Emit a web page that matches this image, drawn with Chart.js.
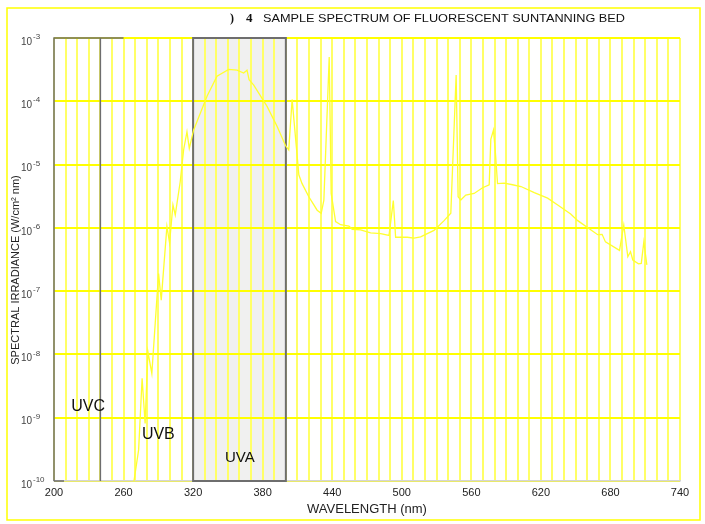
<!DOCTYPE html>
<html>
<head>
<meta charset="utf-8">
<script src="https://cdn.jsdelivr.net/npm/chart.js@4.4.1/dist/chart.umd.min.js"></script>
<style>
  html, body { margin: 0; padding: 0; background: #fff; }
</style>
</head>
<body>
<canvas id="chart" width="705" height="524"></canvas>
<script>
// Spectrum (nm, W/cm² nm)
const titleText = "SAMPLE SPECTRUM OF FLUORESCENT SUNTANNING BED";
const wavelengths = [
  269, 273, 276, 278.6, 281, 284.4, 290.2, 292.5, 297.4, 299.7,
  302.6, 304.6, 308.9, 311.8, 314.7, 316.7, 320.4, 332, 340.6, 350.7,
  357.9, 363.6, 366.5, 368.3, 372.3, 383.8, 392.5, 399.7, 402.5, 405.4,
  411.2, 414, 419.8, 427, 430.5, 432.8, 437.4, 439.1, 442.9, 447.2,
  454.4, 457.3, 464.5, 473.1, 481.8, 489, 492.7, 494.7, 504.8, 510.5,
  516.3, 522, 527.8, 536.5, 542.3, 546.9, 548.6, 550.9, 555.2, 562.4,
  569.7, 575.4, 576.8, 579.1, 580.6, 582.6, 588.3, 595.6, 602.8, 614.3,
  625.8, 634.5, 645.7, 651.8, 669, 672.8, 675.7, 687.8, 691.5, 695,
  697.3, 699.3, 704.2, 706.6, 708.8, 711.4
];
const irradiance = [
  1.0e-10, 3.1e-10, 4.2e-9, 8.1e-10, 1.1e-8, 5.0e-9, 1.9e-7, 7.2e-8, 1.05e-6, 5.8e-7,
  2.3e-6, 1.6e-6, 5.4e-6, 1.7e-5, 3.3e-5, 1.8e-5, 3.5e-5, 1.2e-4, 2.5e-4, 3.2e-4,
  3.1e-4, 2.8e-4, 3.1e-4, 2.2e-4, 1.8e-4, 8.3e-5, 4.0e-5, 2.0e-5, 1.7e-5, 1.07e-4,
  6.9e-6, 5.0e-6, 3.1e-6, 1.9e-6, 1.7e-6, 2.75e-6, 5.0e-4, 3.5e-6, 1.26e-6, 1.12e-6,
  1.07e-6, 9.5e-7, 9.3e-7, 8.3e-7, 8.1e-7, 7.6e-7, 2.7e-6, 7.1e-7, 7.1e-7, 6.9e-7,
  7.2e-7, 8.1e-7, 9.1e-7, 1.3e-6, 1.7e-6, 2.6e-4, 3.1e-6, 2.75e-6, 3.3e-6, 3.5e-6,
  4.3e-6, 4.8e-6, 2.5e-5, 3.5e-5, 1.7e-5, 5.0e-6, 5.1e-6, 4.8e-6, 4.5e-6, 3.6e-6,
  2.95e-6, 2.3e-6, 1.66e-6, 1.3e-6, 7.8e-7, 7.9e-7, 6.0e-7, 4.4e-7, 1.1e-6, 3.5e-7,
  4.2e-7, 3.1e-7, 2.7e-7, 2.75e-7, 6.0e-7, 2.6e-7
];
const xTickLabels = [200, 260, 320, 380, 440, 500, 560, 620, 680, 740];
const yTickExponents = [-10, -9, -8, -7, -6, -5, -4, -3];
const bandNames = ["UVC", "UVB", "UVA"];

const points = wavelengths.map((w, i) => ({ x: w, y: irradiance[i] }));
const sans = "'Liberation Sans', Arial, sans-serif";

// boxes, band labels, titles, power-of-ten labels and frame drawn on the canvas
const decorations = {
  id: "decorations",
  beforeDraw(chart) {
    const { ctx, scales: { x }, chartArea: a } = chart;
    const l = x.getPixelForValue(320), r = x.getPixelForValue(400);
    ctx.save();
    ctx.fillStyle = "#f0f0f0";
    ctx.fillRect(l, a.top, r - l, a.bottom - a.top);
    ctx.restore();
  },
  beforeDatasetsDraw(chart) {
    const { ctx, scales: { x }, chartArea: a } = chart;
    ctx.save();
    ctx.strokeStyle = "#6e6e6e";
    ctx.lineWidth = 2;
    const l = x.getPixelForValue(320), r = x.getPixelForValue(400);
    ctx.strokeRect(l, a.top, r - l, a.bottom - a.top);
    const c0 = x.getPixelForValue(200), c1 = x.getPixelForValue(240), c2 = x.getPixelForValue(260);
    ctx.lineWidth = 1.5;
    ctx.beginPath();
    ctx.moveTo(c0, a.bottom); ctx.lineTo(c0, a.top); ctx.lineTo(c2, a.top);
    ctx.moveTo(c1, a.top); ctx.lineTo(c1, a.bottom);
    ctx.moveTo(c0, a.bottom); ctx.lineTo(c0 + 10, a.bottom);
    ctx.stroke();
    ctx.restore();
  },
  afterDraw(chart) {
    const { ctx, scales: { x, y } } = chart;
    ctx.save();
    ctx.textBaseline = "middle";

    // y tick labels: 10 with a raised exponent
    ctx.fillStyle = "#444";
    y.ticks.forEach((t, i) => {
      const py = y.getPixelForTick(i);
      const e = Math.round(Math.log10(t.value));
      ctx.font = "10px " + sans;
      ctx.textAlign = "right";
      ctx.fillText("10", 32, py + 4);
      ctx.font = "8px " + sans;
      ctx.textAlign = "left";
      ctx.fillText(String(e), 33, py - 1);
    });

    // band labels
    ctx.fillStyle = "#111";
    ctx.textAlign = "center";
    const anchors = [[229.4, 1.5e-9], [290, 5.4e-10], [360.3, 2.35e-10]];
    bandNames.forEach((name, i) => {
      ctx.font = (i === 2 ? "15px " : "16px ") + sans;
      ctx.fillText(name, x.getPixelForValue(anchors[i][0]), y.getPixelForValue(anchors[i][1]));
    });

    // figure title
    ctx.textAlign = "left";
    ctx.font = "bold 12px 'Liberation Serif', 'Times New Roman', serif";
    ctx.fillText(")", 230, 19);
    ctx.font = "bold 13px 'Liberation Serif', 'Times New Roman', serif";
    ctx.fillText("4", 246, 19);
    ctx.font = "11px " + sans;
    const w = ctx.measureText(titleText).width;
    ctx.save();
    ctx.translate(263, 19);
    ctx.scale(362 / w, 1);
    ctx.fillText(titleText, 0, 0);
    ctx.restore();

    // y axis title
    ctx.save();
    ctx.translate(16, 270);
    ctx.rotate(-Math.PI / 2);
    ctx.textAlign = "center";
    ctx.fillStyle = "#222";
    ctx.font = "11px " + sans;
    ctx.fillText("SPECTRAL IRRADIANCE (W/cm² nm)", 0, 0);
    ctx.restore();

    // outer frame
    ctx.strokeStyle = "#ffff00";
    ctx.lineWidth = 1.5;
    ctx.strokeRect(7, 8, 693, 512);
    ctx.restore();
  }
};

new Chart(document.getElementById("chart"), {
  type: "line",
  data: {
    datasets: [{
      data: points,
      borderColor: "#ffff30",
      borderWidth: 1.3,
      pointRadius: 0,
      tension: 0,
      fill: false
    }]
  },
  options: {
    responsive: false,
    animation: false,
    layout: { padding: { top: 38, right: 25, left: 0, bottom: 0 } },
    plugins: { legend: { display: false }, tooltip: { enabled: false } },
    scales: {
      x: {
        type: "linear",
        min: 200,
        max: 740,
        afterBuildTicks: (s) => {
          s.ticks = [];
          for (let v = 200; v <= 740; v += 10) s.ticks.push({ value: v });
        },
        afterFit: (s) => { s.height = 43; },
        ticks: {
          autoSkip: false,
          maxRotation: 0,
          padding: 5,
          color: "#222",
          font: { family: sans, size: 11 },
          callback: (v) => (xTickLabels.includes(v) ? String(v) : "")
        },
        grid: { color: "#ffff66", lineWidth: 2, drawTicks: false },
        border: { display: true, color: "#d4d4d4", width: 1.5 },
        title: {
          display: true,
          text: "WAVELENGTH (nm)",
          color: "#222",
          padding: { top: 0, bottom: 7 },
          font: { family: sans, size: 13 }
        }
      },
      y: {
        type: "logarithmic",
        min: 1e-10,
        max: 1e-3,
        afterBuildTicks: (s) => {
          s.ticks = yTickExponents.map((e) => ({ value: Math.pow(10, e) }));
        },
        afterFit: (s) => { s.width = 54; },
        ticks: { display: false },
        grid: { color: "#ffff00", lineWidth: 2, drawTicks: false },
        border: { display: false }
      }
    }
  },
  plugins: [decorations]
});
</script>
</body>
</html>
